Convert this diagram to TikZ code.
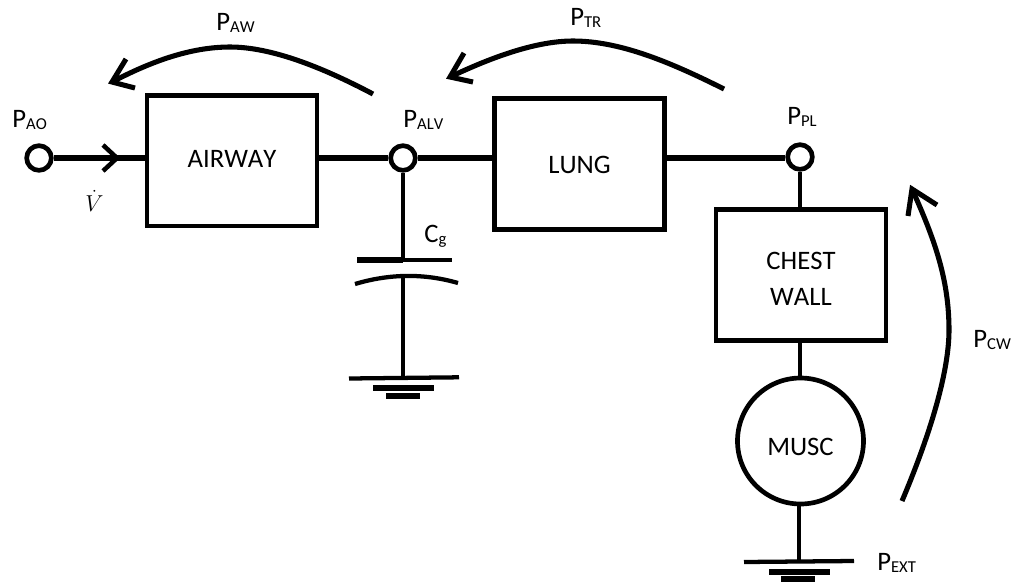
\documentclass[tikz,border=0pt]{standalone}
\usepackage{fontspec}
\setmainfont[Kerning=Off]{Carlito}
\usepackage{amsmath}

\newcommand{\psub}[1]{P\raisebox{-1.5pt}{\fontsize{12.5}{12}\selectfont #1}}

\begin{document}
\begin{tikzpicture}[x=0.75pt, y=-0.75pt, line width=3.5pt,
block_style/.style={rectangle,draw=black,fill=white,inner sep=0pt,minimum width=127.5pt,align=center,font=\fontsize{20}{27}\selectfont},
port_style/.style={circle,draw=black,fill=white,inner sep=0pt,minimum size=18.5pt},
label_style/.style={anchor=base west,inner sep=0pt,font=\fontsize{20}{22}\selectfont},
edge_style/.style={draw=black, line width=3.8pt},
curve_style/.style={draw=black, line width=3.8pt, line join=miter}]
\useasboundingbox (0,0) rectangle (1011,583);

% blocks
\node[block_style, minimum height=98pt] (airway) at (232,160.5) {\raisebox{-5pt}[0pt][0pt]{AIRWAY}};
\node[block_style, minimum height=98pt] (lung) at (579.5,164) {\raisebox{-7pt}[0pt][0pt]{LUNG}};
\node[block_style, minimum height=98pt] (chest) at (801,275) {};
\node[inner sep=0pt,align=center,font=\fontsize{20}{27}\selectfont] (chest_text) at (801,279) {CHEST\\WALL};
\node[circle,draw=black,fill=white,inner sep=0pt,minimum size=94.5pt,font=\fontsize{20}{22}\selectfont] (musc) at (800.5,441) {\raisebox{-10.5pt}[0pt][0pt]{MUSC}};

% ports
\node[port_style] (ao) at (39,158) {};
\node[port_style] (alv) at (403,158) {};
\node[port_style] (pl) at (800,157) {};

% free ends
\coordinate (plate_top) at (403,260);
\coordinate (plate_left) at (357,260);
\coordinate (plate_right) at (452,260);
\coordinate (plate_low) at (403,276);
\coordinate (gnd_a) at (403,378);
\coordinate (gnd_b) at (799,561);

% wires
\draw[edge_style] (ao) -- (ao -| airway.west);
\draw[edge_style] (airway.east |- alv) -- (alv);
\draw[edge_style] (alv) -- (alv -| lung.west);
\draw[edge_style] (lung.east |- alv) -- (pl.west |- alv);
\draw[edge_style, line width=3.4pt] (pl) -- (pl |- chest.north);
\draw[edge_style, line width=3.4pt] (chest.south -| pl) -- (musc.north -| pl);
\draw[edge_style, line width=3.4pt] (musc.south -| gnd_b) -- (gnd_b);
\draw[edge_style, line width=3.4pt] (alv) -- (plate_top);
\draw[edge_style, line width=3.4pt] (plate_low) -- (gnd_a);

% flow mark
\draw[edge_style, line width=3.4pt] (103,145) -- (117,158) -- (103,171);

% capacitor
\draw[edge_style, line width=4pt] (plate_left) -- (plate_top);
\draw[edge_style, line width=2.6pt] (plate_top) -- (plate_right);
\draw[edge_style, line width=3.2pt] (355,284) .. controls (385,275) and (420,272) .. (458,283);

% grounds
\draw[edge_style, line width=3.2pt] (349,378.5) -- (459,377.3);
\draw[edge_style, line width=4pt] (373,388) -- (434,388);
\draw[edge_style, line width=4pt] (386,396) -- (420,396);
\draw[edge_style, line width=3.2pt] (744,562) -- (854,561);
\draw[edge_style, line width=4pt] (769,572) -- (830,572);
\draw[edge_style, line width=4pt] (781,579) -- (815,579);

% pressure arrows
\draw[curve_style] (373,94) .. controls (320,66) and (270,47) .. (230,47) .. controls (190,47) and (150,62) .. (112,82);
\draw[curve_style] (126,59) -- (112,82) -- (135,88);
\draw[curve_style] (724,89) .. controls (670,62) and (620,41) .. (573,41) .. controls (535,41) and (490,58) .. (450,77);
\draw[curve_style] (464,53) -- (450,77) -- (473,82);
\draw[curve_style] (902,501) .. controls (932,430) and (949,370) .. (949,330) .. controls (949,280) and (935,240) .. (912,189);
\draw[curve_style] (908,216) -- (912,189) -- (937,205);

% labels
\node[label_style] (p_ao) at (10,127) {\psub{AO}};
\node[label_style] (p_alv) at (401,127) {\psub{ALV}};
\node[label_style] (p_pl) at (785,124) {\psub{PL}};
\node[label_style] (p_aw) at (214,30) {\psub{AW}};
\node[label_style] (p_tr) at (568,25) {\psub{TR}};
\node[label_style] (p_cw) at (971,347) {\psub{CW}};
\node[label_style] (p_ext) at (875,570) {\psub{EXT}};
\node[label_style] (c_g) at (422,242) {C\raisebox{-1.5pt}{\fontsize{12.5}{12}\selectfont g}};
\node[label_style, font=\fontsize{16}{18}\selectfont] (v_dot) at (83,211) {$\dot{V}$};
\end{tikzpicture}
\end{document}
